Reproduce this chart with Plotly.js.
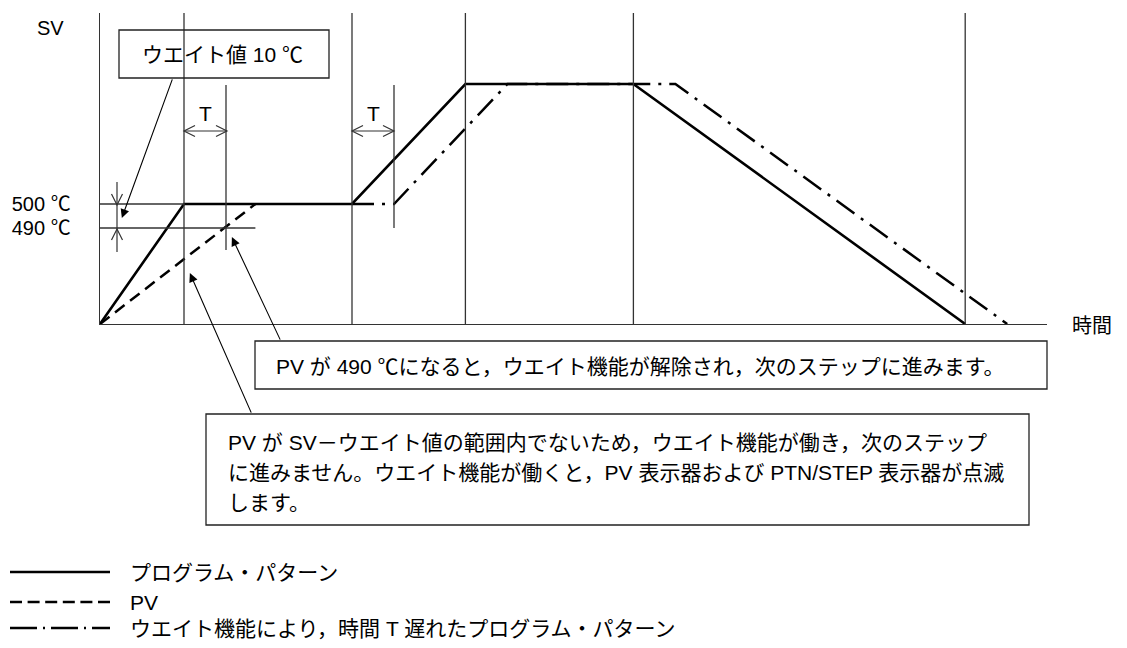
<!DOCTYPE html>
<html>
<head>
<meta charset="utf-8">
<script src="https://cdn.plot.ly/plotly-3.0.1.min.js"></script>
<style>
  html, body { margin: 0; padding: 0; background: #fff; }
  #plot { width: 1127px; height: 648px; }
</style>
</head>
<body>
<div id="plot"></div>
<script>
// Step boundaries (time units, schematic)
const stepTimes = [20, 60, 87, 127, 206];

// Program pattern (SV)
const programTime = [0, 20, 60, 87, 127, 206];
const programSV = [0, 500, 500, 1000, 1000, 0];

// PV during the wait
const pvTime = [0, 37];
const pvValue = [0, 500];

// Program pattern delayed by T through the wait function
const delayedTime = [60, 70, 97, 137, 216];
const delayedSV = [500, 500, 1000, 1000, 0];

// Level ticks (490 band is drawn enlarged, schematic)
const levelTicks = [500, 400];
const levelLabels = ['500 ℃', '490 ℃'];

// T markers
const tMarkTimes = [30, 70];
const tMarkBottom = [308, 400];

const fam = 'Liberation Sans, "Noto Sans CJK JP", sans-serif';
const ink = '#000';
const thin = '#333';

// pixel -> paper helpers for the decorations around the plot
const L = 100, R = 1047, T0 = 13, B = 324;
const xp = px => (px - L) / (R - L);
const yp = py => (B - py) / (B - T0);

const traces = [
  { x: delayedTime, y: delayedSV, mode: 'lines', name: 'ウエイト機能により，時間 T 遅れたプログラム・パターン',
    line: { color: ink, width: 2.5, dash: '22px,8px,3px,8px' } },
  { x: pvTime, y: pvValue, mode: 'lines', name: 'PV',
    line: { color: ink, width: 2.5, dash: '12px,7px' } },
  { x: programTime, y: programSV, mode: 'lines', name: 'プログラム・パターン',
    line: { color: ink, width: 2.6 } }
];

const shapes = [];
const thinLine = { color: thin, width: 1.3 };

// step verticals
stepTimes.forEach(t => shapes.push({ type: 'line', xref: 'x', yref: 'paper', x0: t, x1: t, y0: 0, y1: 1, line: thinLine }));
// T delay verticals
tMarkTimes.forEach((t, i) => shapes.push({ type: 'line', xref: 'x', yref: 'y', x0: t, x1: t, y0: tMarkBottom[i], y1: 996, line: thinLine }));
// 500 / 490 guides
shapes.push({ type: 'line', xref: 'x', yref: 'y', x0: 0, x1: programTime[1], y0: levelTicks[0], y1: levelTicks[0], line: thinLine });
shapes.push({ type: 'line', xref: 'x', yref: 'y', x0: 0, x1: pvTime[1], y0: levelTicks[1], y1: levelTicks[1], line: thinLine });

// chevron helper (pixel coords -> paper path)
function chevron(tx, ty, dx, dy) {
  // dx,dy: direction the tip points to
  const len = 11, half = 5.5;
  let a, b;
  if (dx !== 0) { a = [tx - dx * len, ty - half]; b = [tx - dx * len, ty + half]; }
  else { a = [tx - half, ty - dy * len]; b = [tx + half, ty - dy * len]; }
  return { type: 'path', xref: 'paper', yref: 'paper', line: { color: thin, width: 1.2 },
    path: `M${xp(a[0])},${yp(a[1])} L${xp(tx)},${yp(ty)} L${xp(b[0])},${yp(b[1])}` };
}
function seg(x0, y0, x1, y1) {
  return { type: 'line', xref: 'paper', yref: 'paper', x0: xp(x0), x1: xp(x1), y0: yp(y0), y1: yp(y1), line: { color: thin, width: 1.2 } };
}
// T dimension arrows
[[184, 227], [352, 394]].forEach(([a, b]) => {
  shapes.push(seg(a, 131, b, 131));
  shapes.push(chevron(a, 131, -1, 0));
  shapes.push(chevron(b, 131, 1, 0));
});
// wait band arrows
shapes.push(seg(117, 182, 117, 252));
shapes.push(chevron(117, 205, 0, 1));
shapes.push(chevron(117, 229, 0, -1));

// boxes
function box(x0, y0, x1, y1) {
  return { type: 'rect', xref: 'paper', yref: 'paper', x0: xp(x0), x1: xp(x1), y0: yp(y1), y1: yp(y0),
    line: { color: '#222', width: 1.3 }, fillcolor: 'rgba(0,0,0,0)' };
}
shapes.push(box(119, 30, 329, 78));
shapes.push(box(255, 341, 1047, 389));
shapes.push(box(206, 414, 1029, 525));

// legend samples
shapes.push({ type: 'line', xref: 'paper', yref: 'paper', x0: xp(10), x1: xp(110), y0: yp(572), y1: yp(572), line: { color: ink, width: 2.5 } });
shapes.push({ type: 'line', xref: 'paper', yref: 'paper', x0: xp(10), x1: xp(110), y0: yp(602), y1: yp(602), line: { color: ink, width: 2.5, dash: '12px,5.6px' } });
shapes.push({ type: 'line', xref: 'paper', yref: 'paper', x0: xp(10), x1: xp(110), y0: yp(628), y1: yp(628), line: { color: ink, width: 2.5, dash: '27px,6px,2px,6px' } });

function label(text, px, py, size, anchor) {
  return { xref: 'paper', yref: 'paper', x: xp(px), y: yp(py), text, showarrow: false,
    xanchor: anchor || 'center', yanchor: 'middle', font: { family: fam, size: size || 20, color: ink } };
}
function pointer(t, v, axPx, ayPx) {
  return { xref: 'x', yref: 'y', x: t, y: v, text: '', showarrow: true, axref: 'pixel', ayref: 'pixel',
    ax: axPx, ay: ayPx, arrowhead: 2, arrowsize: 1.6, arrowwidth: 1.1, arrowcolor: ink, standoff: 0 };
}

const annotations = [
  label('SV', 50, 28, 20),
  label('時間', 1092, 326, 20),
  label('T', 205, 113, 21),
  label('T', 373, 113, 21),
  label('ウエイト値 10 ℃', 222, 55, 21),
  label('PV が 490 ℃になると，ウエイト機能が解除され，次のステップに進みます。', 274, 366, 21, 'left'),
  label('PV が SV－ウエイト値の範囲内でないため，ウエイト機能が働き，次のステップ', 226, 442, 21, 'left'),
  label('に進みません。ウエイト機能が働くと，PV 表示器および PTN/STEP 表示器が点滅', 226, 472, 21, 'left'),
  label('します。', 226, 502, 21, 'left'),
  label(traces[2].name, 128, 572, 21, 'left'),
  label(traces[1].name, 128, 602, 21, 'left'),
  label(traces[0].name, 128, 628, 21, 'left'),
  pointer(5.2, 442, 51, -140),
  pointer(31.4, 362, 49, 104),
  pointer(21.4, 212, 62, 141)
];

const layout = {
  width: 1127, height: 648,
  margin: { l: L, r: 1127 - R, t: T0, b: 648 - B, pad: 0 },
  paper_bgcolor: '#fff', plot_bgcolor: '#fff',
  showlegend: false,
  xaxis: { range: [0, (R - L) / 4.2], showgrid: false, zeroline: false, showticklabels: false,
    ticks: '', showline: true, linecolor: thin, linewidth: 1.3 },
  yaxis: { range: [0, (B - T0) / 0.24], showgrid: false, zeroline: false,
    tickvals: levelTicks, ticktext: levelLabels, ticks: '', ticklabelstandoff: 24,
    tickfont: { family: fam, size: 20, color: ink }, showline: true, linecolor: thin, linewidth: 1.3 },
  shapes, annotations
};

Plotly.newPlot('plot', traces, layout, { staticPlot: true });
</script>
</body>
</html>
